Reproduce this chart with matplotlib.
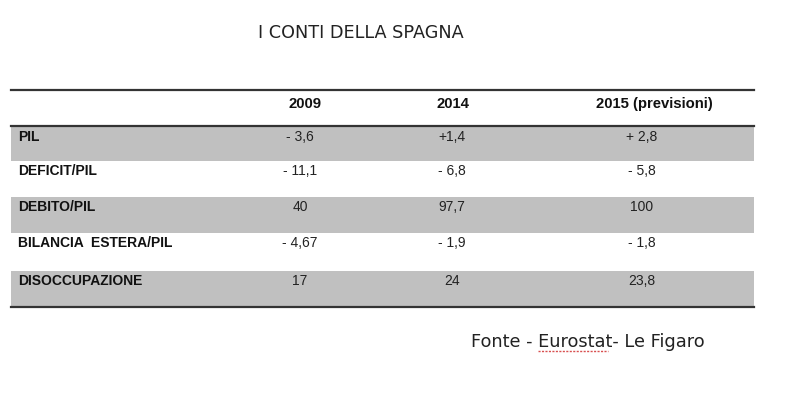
import matplotlib.pyplot as plt
from matplotlib.patches import Rectangle

title = 'I CONTI DELLA SPAGNA'
columns = ['2009', '2014', '2015 (previsioni)']
rows = ['PIL', 'DEFICIT/PIL', 'DEBITO/PIL', 'BILANCIA  ESTERA/PIL', 'DISOCCUPAZIONE']
v2009 = ['- 3,6', '- 11,1', '40', '- 4,67', '17']
v2014 = ['+1,4', '- 6,8', '97,7', '- 1,9', '24']
v2015 = ['+ 2,8', '- 5,8', '100', '- 1,8', '23,8']
source = 'Fonte - Eurostat- Le Figaro'

W, H = 800, 411
fig = plt.figure(figsize=(8, 4.11), dpi=100)
ax = fig.add_axes([0, 0, 1, 1])
ax.set_xlim(0, W)
ax.set_ylim(H, 0)
ax.axis('off')

left, right = 11, 754
col_x = [300, 452, 642]
head_x = [305, 453, 654]
row_edges = [127, 161, 197, 233, 271, 307]
gray = '#c0c0c0'
line_c = '#333333'

ax.text(361, 33, title, ha='center', va='center', fontsize=12.7,
        family='DejaVu Sans', color='#222222')

# shaded rows (alternating)
for i in range(len(rows)):
    if i % 2 == 0:
        ax.add_patch(Rectangle((left, row_edges[i]), right - left,
                               row_edges[i + 1] - row_edges[i],
                               facecolor=gray, edgecolor='none'))

ax.plot([left, right], [90, 90], color=line_c, lw=1.6)
ax.plot([left, right], [126.5, 126.5], color=line_c, lw=1.6)
ax.plot([left, right], [307, 307], color=line_c, lw=1.6)

for x, c in zip(head_x, columns):
    ax.text(x, 104, c, ha='center', va='center', fontsize=10.7,
            fontweight='bold', family='Liberation Sans', color='#111111')

for i, r in enumerate(rows):
    y = row_edges[i] + 9.5
    ax.text(18, y, r, ha='left', va='center', fontsize=10, fontweight='bold',
            family='Liberation Sans', color='#111111')
    for x, vals in zip(col_x, [v2009, v2014, v2015]):
        ax.text(x, y, vals[i], ha='center', va='center', fontsize=10,
                family='Liberation Sans', color='#222222')

ax.text(471, 342, source, ha='left', va='center', fontsize=12.8,
        family='DejaVu Sans', color='#222222')
# spell-check squiggle under "Eurostat"
ax.plot([538, 608], [351, 351], color='#d85050', lw=1.0, ls=(0, (1.5, 1)))

fig.savefig('out.png', dpi=100, facecolor='white')
plt.close(fig)
